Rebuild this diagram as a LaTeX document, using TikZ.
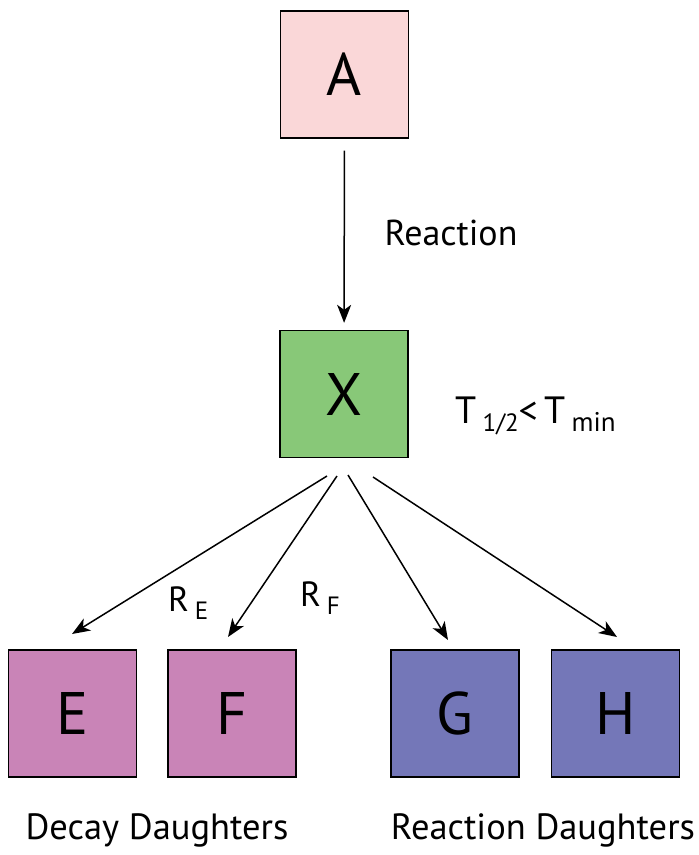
\documentclass[tikz,border=0pt]{standalone}
\usepackage{fontspec}
\setmainfont{PT Sans}
\usetikzlibrary{arrows.meta}
\definecolor{cA}{HTML}{FAD7D8}
\definecolor{cX}{HTML}{88C878}
\definecolor{cD}{HTML}{C984B7}
\definecolor{cR}{HTML}{7477B8}
\begin{document}
\begin{tikzpicture}[x=1pt,y=-1pt,
  box/.style={draw=black,line width=1.3pt,minimum width=128pt,minimum height=127pt,inner sep=0pt,
    font=\fontsize{60}{64}\selectfont},
  lab/.style={inner sep=0pt,font=\fontsize{36.5}{40}\selectfont},
  arr/.style={line width=1.5pt,-{Stealth[length=18pt,width=14pt,inset=5pt]}}]
\useasboundingbox (0,0) rectangle (699,855);
\node[box,fill=cA] (A) at (344.5,74.5) {A};
\node[box,fill=cX] (X) at (344,394) {X};
\node[box,fill=cD] (E) at (72.5,713.5) {E};
\node[box,fill=cD] (F) at (232,713.5) {F};
\node[box,fill=cR] (G) at (455,713.5) {G};
\node[box,fill=cR] (H) at (615.5,713.5) {H};
\draw[arr,shorten <=12pt,shorten >=7pt] (A) -- (X);
\node[lab,font=\fontsize{36}{40}\selectfont] (rea) at (451,233) {Reaction};
\node[lab,anchor=base west,font=\fontsize{38}{42}\selectfont] (thalf) at (455,423)
  {T\,{\fontsize{25}{28}\selectfont\raisebox{-8pt}{1/2}}<\,T\,{\fontsize{27}{30}\selectfont\raisebox{-8pt}{min}}};
\coordinate (sE) at (327,476);
\coordinate (sF) at (337,476);
\coordinate (sG) at (348,475);
\coordinate (sH) at (373,477);
\coordinate (tE) at (72,634);
\coordinate (tF) at (228,637);
\coordinate (tG) at (448,640);
\coordinate (tH) at (617,637);
\draw[arr] (sE) -- (tE);
\draw[arr] (sF) -- (tF);
\draw[arr] (sG) -- (tG);
\draw[arr] (sH) -- (tH);
\node[lab,anchor=base west,font=\fontsize{35}{38}\selectfont] (RE) at (168,611)
  {R\,{\fontsize{25}{28}\selectfont\raisebox{-8pt}{E}}};
\node[lab,anchor=base west,font=\fontsize{35}{38}\selectfont] (RF) at (300,606)
  {R\,{\fontsize{25}{28}\selectfont\raisebox{-8pt}{F}}};
\node[lab] (dd) at (157,830) {Decay Daughters};
\node[lab] (rd) at (543,830) {Reaction Daughters};
\end{tikzpicture}
\end{document}
